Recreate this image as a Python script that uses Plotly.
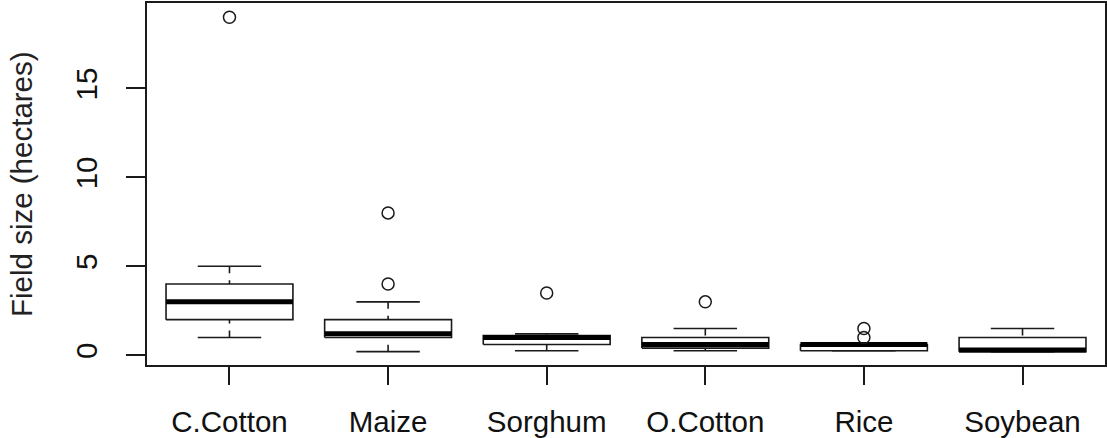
import plotly.graph_objects as go

categories = ["C.Cotton", "Maize", "Sorghum", "O.Cotton", "Rice", "Soybean"]
lower_whisker = [1.0, 0.2, 0.25, 0.25, 0.25, 0.2]
q1 = [2.0, 1.0, 0.6, 0.4, 0.25, 0.2]
median = [3.0, 1.2, 1.0, 0.6, 0.6, 0.3]
q3 = [4.0, 2.0, 1.1, 1.0, 0.6, 1.0]
upper_whisker = [5.0, 3.0, 1.2, 1.5, 0.6, 1.5]
outlier_cat = ["C.Cotton", "Maize", "Maize", "Sorghum", "O.Cotton", "Rice", "Rice"]
outlier_val = [19.0, 4.0, 8.0, 3.5, 3.0, 1.0, 1.5]
y_ticks = [0, 5, 10, 15]

BOX_HALF = 0.4
CAP_HALF = 0.2
FONT = "Liberation Sans, Arial, sans-serif"
LW = 1.6
LC = "#1a1a1a"

pos = {c: i + 1 for i, c in enumerate(categories)}

box_x, box_y = [], []
wh_x, wh_y = [], []
cap_x, cap_y = [], []
med_x, med_y = [], []
for i, c in enumerate(categories):
    x = pos[c]
    box_x += [x - BOX_HALF, x + BOX_HALF, x + BOX_HALF, x - BOX_HALF, x - BOX_HALF, None]
    box_y += [q1[i], q1[i], q3[i], q3[i], q1[i], None]
    wh_x += [x, x, None, x, x, None]
    wh_y += [upper_whisker[i], q3[i], None, lower_whisker[i], q1[i], None]
    cap_x += [x - CAP_HALF, x + CAP_HALF, None, x - CAP_HALF, x + CAP_HALF, None]
    cap_y += [upper_whisker[i], upper_whisker[i], None, lower_whisker[i], lower_whisker[i], None]
    med_x += [x - BOX_HALF, x + BOX_HALF, None]
    med_y += [median[i], median[i], None]

fig = go.Figure()
fig.add_trace(go.Scatter(x=wh_x, y=wh_y, mode="lines",
                         line=dict(color=LC, width=LW, dash="7px,7px"), hoverinfo="skip"))
fig.add_trace(go.Scatter(x=cap_x, y=cap_y, mode="lines",
                         line=dict(color=LC, width=LW), hoverinfo="skip"))
fig.add_trace(go.Scatter(x=box_x, y=box_y, mode="lines", fill="toself", fillcolor="white",
                         line=dict(color=LC, width=LW), hoverinfo="skip"))
fig.add_trace(go.Scatter(x=med_x, y=med_y, mode="lines",
                         line=dict(color="black", width=5), hoverinfo="skip"))
fig.add_trace(go.Scatter(x=[pos[c] for c in outlier_cat], y=outlier_val, mode="markers",
                         marker=dict(symbol="circle-open", size=12, color=LC,
                                     line=dict(width=1.5, color=LC))))

fig.update_layout(
    width=1107, height=438,
    margin=dict(l=147, r=2, t=3, b=73, autoexpand=False),
    paper_bgcolor="white", plot_bgcolor="white",
    showlegend=False,
    font=dict(family=FONT, size=29.5, color="black"),
)
fig.update_xaxes(
    range=[0.48, 6.52], tickvals=list(range(1, len(categories) + 1)), ticktext=categories,
    showgrid=False, zeroline=False, showline=True, mirror=True, linecolor=LC, linewidth=LW,
    ticks="outside", ticklen=18, tickcolor=LC, tickwidth=LW, ticklabelstandoff=12,
    automargin=False,
    tickfont=dict(family=FONT, size=29.5, color="#111111"),
)
fig.update_yaxes(
    range=[-0.55, 19.8], tickvals=y_ticks, ticktext=[str(t) for t in y_ticks],
    showgrid=False, zeroline=False, showline=True, mirror=True, linecolor=LC, linewidth=LW,
    ticks="outside", ticklen=19, tickcolor=LC, tickwidth=LW, tickangle=-90,
    ticklabelstandoff=17, automargin=False,
    tickfont=dict(family=FONT, size=29.5, color="#111111"),
)
fig.add_annotation(
    text="Field size (hectares)", xref="paper", yref="paper", x=0, y=0.5,
    xanchor="center", yanchor="middle", xshift=-126, textangle=-90, showarrow=False,
    font=dict(family=FONT, size=29.5, color="#222222"),
)

fig.write_html("out.html")
